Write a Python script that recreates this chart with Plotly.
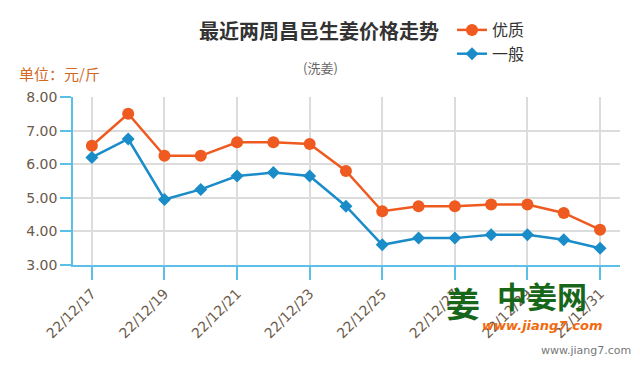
import plotly.graph_objects as go

dates = ["22/12/17", "22/12/18", "22/12/19", "22/12/20", "22/12/21", "22/12/22", "22/12/23",
         "22/12/24", "22/12/25", "22/12/26", "22/12/27", "22/12/28", "22/12/29", "22/12/30", "22/12/31"]
premium = [6.55, 7.5, 6.25, 6.25, 6.65, 6.65, 6.6, 5.8, 4.6, 4.75, 4.75, 4.8, 4.8, 4.55, 4.05]
ordinary = [6.2, 6.75, 4.95, 5.25, 5.65, 5.75, 5.65, 4.75, 3.6, 3.8, 3.8, 3.9, 3.9, 3.75, 3.5]
tick_dates = dates[::2]
y_ticks = [3, 4, 5, 6, 7, 8]

ORANGE = "#EE5A1F"
BLUE = "#1A8DC9"
AXIS = "#5BC0E8"
CJK = "Noto Sans CJK SC"

W, H = 640, 370
L, R, T, B = 73, 20, 97, 105
PW, PH = W - L - R, H - T - B


def px(x):
    return (x - L) / PW


def py(y):
    return (H - B - y) / PH


fig = go.Figure()
fig.add_trace(go.Scatter(x=dates, y=premium, name="优质", mode="lines+markers",
                         line=dict(color=ORANGE, width=2.5),
                         marker=dict(symbol="circle", size=12, color=ORANGE)))
fig.add_trace(go.Scatter(x=dates, y=ordinary, name="一般", mode="lines+markers",
                         line=dict(color=BLUE, width=2.5),
                         marker=dict(symbol="diamond", size=10, color=BLUE)))

fig.update_layout(
    width=W, height=H,
    margin=dict(l=L, r=R, t=T, b=B, autoexpand=False),
    paper_bgcolor="white", plot_bgcolor="white",
    font=dict(family="DejaVu Sans", size=13, color="#555"),
    showlegend=True,
    legend=dict(xref="container", yref="container", x=452 / W, y=1 - 13 / H,
                xanchor="left", yanchor="top",
                font=dict(family=CJK, size=16, color="#333"),
                tracegroupgap=0, itemwidth=30, bgcolor="rgba(0,0,0,0)"),
    xaxis=dict(type="category", range=[-0.52, 14.55], automargin=False,
               tickmode="array", tickvals=tick_dates, ticktext=tick_dates,
               tickangle=-45, ticks="outside", ticklen=13, tickcolor=AXIS, tickwidth=1.5,
               showline=True, linecolor=AXIS, linewidth=2,
               showgrid=True, gridcolor="#dcdcdc", gridwidth=1.5,
               tickfont=dict(family="DejaVu Sans", size=14, color="#6b5a4a"),
               zeroline=False, fixedrange=True),
    yaxis=dict(range=[3, 8], tickvals=y_ticks, tickformat=".2f", automargin=False,
               ticks="outside", ticklen=11, tickcolor=AXIS, tickwidth=1.5,
               showline=True, linecolor=AXIS, linewidth=1.5,
               showgrid=True, gridcolor="#dcdcdc", gridwidth=1.5,
               tickfont=dict(family="DejaVu Sans", size=14, color="#6b5a4a"),
               zeroline=False, fixedrange=True),
)

fig.add_annotation(text="<b>最近两周昌邑生姜价格走势</b>", xref="paper", yref="paper",
                   x=px(319), y=py(30), xanchor="center", yanchor="middle",
                   showarrow=False, font=dict(family=CJK, size=20, color="#333"))
fig.add_annotation(text="(洗姜)", xref="paper", yref="paper",
                   x=px(320), y=py(67), xanchor="center", yanchor="middle",
                   showarrow=False, font=dict(family=CJK, size=13, color="#666"))
fig.add_annotation(text="单位：元/斤", xref="paper", yref="paper",
                   x=px(17), y=py(73), xanchor="left", yanchor="middle",
                   showarrow=False, font=dict(family=CJK, size=15, color="#D2691E"))
fig.add_annotation(text="<b>姜</b>", xref="paper", yref="paper",
                   x=px(463), y=py(302), xanchor="center", yanchor="middle",
                   showarrow=False, font=dict(family=CJK, size=34, color="#17661a"))
fig.add_annotation(text="<b>中姜网</b>", xref="paper", yref="paper",
                   x=px(542), y=py(295), xanchor="center", yanchor="middle",
                   showarrow=False, font=dict(family=CJK, size=30, color="#17661a"))
fig.add_annotation(text="<b><i>www.jiang7.com</i></b>", xref="paper", yref="paper",
                   x=px(542), y=py(325), xanchor="center", yanchor="middle",
                   showarrow=False, font=dict(family="DejaVu Sans", size=13, color="#F26A10"))
fig.add_annotation(text="www.jiang7.com", xref="paper", yref="paper",
                   x=px(633), y=py(350), xanchor="right", yanchor="middle",
                   showarrow=False, font=dict(family="DejaVu Sans", size=11, color="#777"))

fig.write_html("out.html", config={"displayModeBar": False},
               post_script="document.body.style.margin='0';document.body.style.overflow='hidden';")
